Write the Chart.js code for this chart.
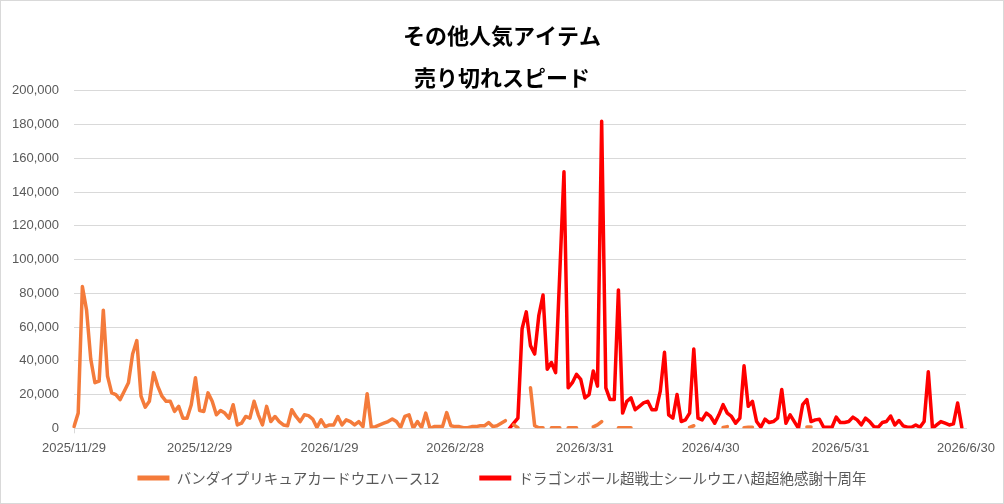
<!DOCTYPE html>
<html>
<head>
<meta charset="utf-8">
<script src="https://cdn.jsdelivr.net/npm/chart.js@4/dist/chart.umd.min.js"></script>
<style>
  html, body { margin: 0; padding: 0; background: #fff; }
  #wrap { width: 1004px; height: 504px; }
</style>
</head>
<body>
<div id="wrap"><canvas id="salesChart" width="1004" height="504"></canvas></div>
<script>
// daily categories: 2025/11/29 .. 2026/6/30
const startDay = [2025, 11, 29];
const dayCount = 214;
const tickLabels = ['2025/11/29', '2025/12/29', '2026/1/29', '2026/2/28', '2026/3/31', '2026/4/30', '2026/5/31', '2026/6/30'];

const seriesNames = ['バンダイプリキュアカードウエハース12', 'ドラゴンボール超戦士シールウエハ超超絶感謝十周年'];

// バンダイプリキュアカードウエハース12
const bandaiValues = [
  1000, 9000, 84000, 70000, 41000, 27000, 28000, 70000, 31000, 21000,
  20000, 17000, 22000, 27000, 44000, 52000, 19000, 12500, 16000, 33000,
  25000, 19000, 16000, 16000, 10000, 13000, 6000, 6000, 14000, 30000,
  10500, 10000, 21000, 16000, 8000, 10500, 9000, 6000, 14000, 2000,
  3000, 7000, 6000, 16000, 8000, 2000, 13000, 4000, 7000, 4000,
  2000, 1500, 11000, 7000, 4000, 8000, 7500, 5500, 500, 5000,
  1000, 2000, 2000, 7000, 2000, 5000, 4000, 2000, 4000, 1000,
  20500, 500, 1000, 2000, 3000, 4000, 5500, 4000, 500, 7000,
  8000, 0, 4000, 500, 9000, 0, 1000, 1000, 1000, 9300,
  1500, 1000, 1000, 300, 300, 1000, 1000, 1500, 1500, 3400,
  1000, 1500, 3000, 4500, null, 2000, 300, null, null, 24000,
  1500, 300, 300, null, 300, 300, 300, null, 300, 300,
  300, null, null, null, 800, 2000, 4000, null, null, null,
  300, 300, 300, 300, null, null, null, null, null, null,
  null, null, null, null, null, null, null, 600, 1500, null,
  null, null, null, null, null, 500, 1000, null, null, null,
  300, 600, 600, null, null, null, null, null, null, null,
  null, null, null, null, null, 700, 700, null, null, null,
  null, null, null, null, null, null, null, null, null, null,
  null, null, null, null, null, null, null, null, null, null,
  null, null, null, null, null, null, null, null, null, null,
  null, null, null, null
];

// ドラゴンボール超戦士シールウエハ超超絶感謝十周年
const dragonValues = [
  null, null, null, null, null, null, null, null, null, null,
  null, null, null, null, null, null, null, null, null, null,
  null, null, null, null, null, null, null, null, null, null,
  null, null, null, null, null, null, null, null, null, null,
  null, null, null, null, null, null, null, null, null, null,
  null, null, null, null, null, null, null, null, null, null,
  null, null, null, null, null, null, null, null, null, null,
  null, null, null, null, null, null, null, null, null, null,
  null, null, null, null, null, null, null, null, null, null,
  null, null, null, null, null, null, null, null, null, null,
  null, null, null, null, 0, 3000, 6000, 59000, 69000, 49000,
  44000, 67000, 79000, 35000, 39000, 33000, 92000, 152000, 24000, 27000,
  32000, 29000, 18000, 20000, 34000, 25000, 182000, 24000, 17000, 17000,
  82000, 9000, 16000, 18000, 11000, 13000, 15000, 16000, 11000, 11000,
  22000, 45000, 8000, 6000, 20000, 4000, 5000, 9000, 47000, 6000,
  5000, 9000, 7000, 3000, 8000, 14000, 9000, 7000, 3000, 6000,
  37000, 13000, 16000, 4000, 600, 5400, 3400, 4000, 6000, 23000,
  3000, 8000, 4000, 0, 14000, 17000, 4000, 5000, 5400, 600,
  600, 600, 6600, 3400, 3400, 4000, 6600, 5000, 2000, 6000,
  4000, 1000, 600, 3400, 4000, 7300, 2000, 4600, 1400, 600,
  600, 2000, 600, 4000, 33500, 0, 2000, 4000, 3000, 2000,
  2600, 15000, 500, null
];

const categories = [];
for (let i = 0; i < dayCount; i++) {
  const d = new Date(startDay[0], startDay[1] - 1, startDay[2] + i);
  categories.push(d.getFullYear() + '/' + (d.getMonth() + 1) + '/' + d.getDate());
}

const ORANGE = '#F47B3B';
const RED = '#FF0000';
const GRID = '#d9d9d9';
const TEXT = '#595959';
const jpFont = "'Noto Sans CJK JP', 'Noto Sans', sans-serif";

Chart.defaults.font.family = "'Liberation Sans', 'Noto Sans CJK JP', sans-serif";

const isTick = idx => tickLabels.includes(categories[idx]);

// white background + thin frame
const frame = {
  id: 'frame',
  beforeDraw(chart) {
    const c = chart.ctx;
    c.save();
    c.fillStyle = '#fff';
    c.fillRect(0, 0, chart.width, chart.height);
    c.restore();
  },
  afterDraw(chart) {
    const c = chart.ctx;
    c.save();
    c.strokeStyle = GRID;
    c.lineWidth = 1;
    c.strokeRect(0.5, 0.5, chart.width - 1, chart.height - 1);
    c.restore();
  }
};

// legend padding is wide (item gap), pull the legend up so the row sits under the axis labels
const legendShift = {
  id: 'legendShift',
  afterLayout(chart) {
    const lg = chart.legend;
    if (!lg) return;
    lg.top -= 27.5;
    lg.bottom -= 27.5;
  }
};

new Chart(document.getElementById('salesChart').getContext('2d'), {
  type: 'line',
  data: {
    labels: categories,
    datasets: [
      { label: seriesNames[0], data: bandaiValues, borderColor: ORANGE, backgroundColor: ORANGE },
      { label: seriesNames[1], data: dragonValues, borderColor: RED, backgroundColor: RED }
    ]
  },
  options: {
    responsive: false,
    animation: false,
    devicePixelRatio: 1,
    spanGaps: false,
    elements: {
      line: { borderWidth: 3.5, tension: 0, borderJoinStyle: 'round', borderCapStyle: 'round' },
      point: { radius: 0, hoverRadius: 0 }
    },
    layout: { padding: { left: 0, right: 0, top: 0, bottom: -18.8 } },
    plugins: {
      title: {
        display: true,
        text: 'その他人気アイテム',
        color: '#000',
        font: { family: jpFont, size: 22, weight: 'bold' },
        padding: { top: 22, bottom: 8 }
      },
      subtitle: {
        display: true,
        text: '売り切れスピード',
        color: '#000',
        font: { family: jpFont, size: 22, weight: 'bold' },
        padding: { top: 8, bottom: 0 }
      },
      legend: {
        position: 'bottom',
        labels: {
          color: TEXT,
          font: { family: jpFont, size: 14.5 },
          boxWidth: 32,
          boxHeight: 5,
          padding: 40,
          generateLabels(chart) {
            return Chart.defaults.plugins.legend.labels.generateLabels(chart).map(l => Object.assign(l, { lineWidth: 0 }));
          }
        }
      },
      tooltip: { enabled: false }
    },
    scales: {
      x: {
        ticks: {
          autoSkip: false,
          maxRotation: 0,
          minRotation: 0,
          color: TEXT,
          font: { size: 13 },
          padding: 7,
          callback(value, index) {
            const lab = this.getLabelForValue(value);
            return tickLabels.includes(lab) ? lab : null;
          }
        },
        grid: {
          drawOnChartArea: false,
          drawTicks: true,
          tickLength: 5,
          color: ctx => isTick(ctx.index) ? GRID : 'rgba(0,0,0,0)',
          tickColor: ctx => isTick(ctx.index) ? GRID : 'rgba(0,0,0,0)'
        },
        border: { display: true, color: GRID, width: 1 },
        afterFit(scale) { scale.height = 30; }
      },
      y: {
        min: 0,
        max: 200000,
        ticks: { stepSize: 20000, color: TEXT, font: { size: 13 }, padding: 15 },
        grid: { color: GRID, lineWidth: 1, drawTicks: false },
        border: { display: false },
        afterFit(scale) { scale.width = 74; }
      },
      yRight: {
        position: 'right',
        display: true,
        ticks: { display: false },
        grid: { display: false },
        border: { display: false },
        afterFit(scale) { scale.width = 38; }
      }
    }
  },
  plugins: [frame, legendShift]
});
</script>
</body>
</html>
